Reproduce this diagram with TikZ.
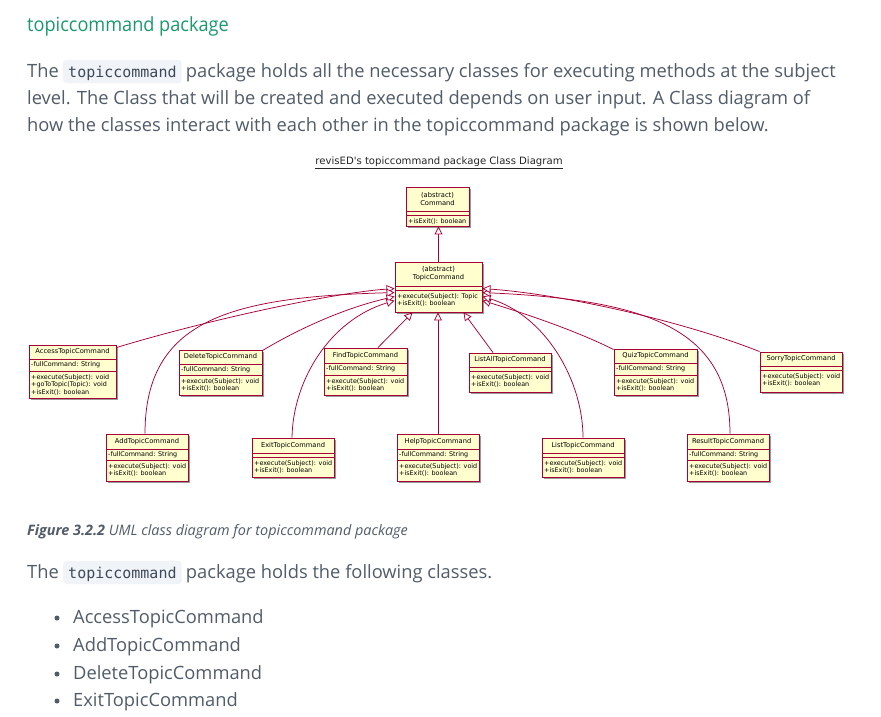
\documentclass[tikz,border=0pt]{standalone}
\usepackage{fontspec}
\setmainfont{Open Sans}
\newfontfamily\bodyfont{Open Sans}
\newfontfamily\headfont{Open Sans}[FakeStretch=0.93]
\newfontfamily\umlfont{DejaVu Sans}
\newfontfamily\codefont{DejaVu Sans Mono}
\usetikzlibrary{arrows.meta,shadows,fit,calc}
\definecolor{headgreen}{HTML}{1A9A6C}
\definecolor{bodygray}{HTML}{515C68}
\definecolor{codebg}{HTML}{F0F3F8}
\definecolor{codefg}{HTML}{3E4A57}
\definecolor{umlred}{HTML}{A80036}
\definecolor{umlfill}{HTML}{FEFECE}
\tikzset{
  classbox/.style={draw=umlred, line width=0.9pt, fill=umlfill, inner sep=0pt,
    drop shadow={shadow xshift=2pt, shadow yshift=-2pt, fill=black, opacity=0.4}},
  compline/.style={draw=umlred, line width=0.7pt},
  nametext/.style={font=\umlfont\fontsize{6.7}{8}\selectfont, align=center, inner sep=0pt, text=black},
  membertext/.style={font=\umlfont\fontsize{6.4}{7}\selectfont, anchor=west, inner sep=0pt, text=black},
  gen/.style={draw=umlred, line width=0.75pt, -{Triangle[length=8pt,width=8pt,fill=white]}},
  body/.style={font=\bodyfont\fontsize{18.3}{22}\selectfont, text=bodygray, inner sep=0pt, anchor=base west},
  codebox/.style={font=\codefont\fontsize{15}{18}\selectfont, text=codefg, fill=codebg, rounded corners=3pt,
    inner xsep=5pt, inner ysep=2pt, text height=15pt, text depth=4pt, anchor=base west},
  bullet/.style={circle, fill=bodygray, inner sep=0pt, minimum size=5pt}
}
\newcommand\classbox[7]{%
  \node[classbox, fit={(#2,#3) (#4,#5)}] (#1) {};
  \draw[compline] (#2,#6) -- (#4,#6);
  \draw[compline] (#2,#7) -- (#4,#7);
  \coordinate (#1-n) at ({(#2+#4)/2},{(#3+#6)/2});
  \coordinate (#1-a) at ({#2+2},{(#6+#7)/2});
  \coordinate (#1-m) at ({#2+2},{#7+6.5});
}
\newcommand\classtext[4]{%
  \node[nametext] (#1-name) at (#1-n) {#2};
  \node[membertext] (#1-attr) at (#1-a) {#3};
  \foreach \m [count=\i from 0] in {#4} {\node[membertext] (#1-m\i) at ($(#1-m)+(0,7.4*\i)$) {\m};}
}
\begin{document}
\begin{tikzpicture}[x=1pt,y=-1pt]
\useasboundingbox (0,0) rectangle (881,716);
\fill[white] (0,0) rectangle (881,716);

% page text
\node[body, font=\headfont\fontsize{19.5}{23}\selectfont, text=headgreen] (head) at (27,31) {topiccommand package};
\node[body] (p1a) at (27,77) {The};
\node[codebox] (p1c) at ([xshift=4pt]p1a.base east) {topiccommand};
\node[body] (p1b) at ([xshift=4pt]p1c.base east) {package holds all the necessary classes for executing methods at the subject};
\node[body] (p2) at (27,104) {level. The Class that will be created and executed depends on user input. A Class diagram of};
\node[body] (p3) at (27,131) {how the classes interact with each other in the topiccommand package is shown below.};

\node[body, font=\bodyfont\itshape\fontsize{14.4}{17}\selectfont] (cap) at (27,535) {\textbf{Figure 3.2.2} UML class diagram for topiccommand package};
\node[body] (q1a) at (27,578) {The};
\node[codebox] (q1c) at ([xshift=4pt]q1a.base east) {topiccommand};
\node[body] (q1b) at ([xshift=4pt]q1c.base east) {package holds the following classes.};

\node[bullet] (b1) at (57,618) {};
\node[body] (l1) at (73,623) {AccessTopicCommand};
\node[bullet] (b2) at (57,646) {};
\node[body] (l2) at (73,651) {AddTopicCommand};
\node[bullet] (b3) at (57,674) {};
\node[body] (l3) at (73,679) {DeleteTopicCommand};
\node[bullet] (b4) at (57,701) {};
\node[body] (l4) at (73,706) {ExitTopicCommand};

% diagram title
\node[font=\umlfont\fontsize{10.1}{12}\selectfont, text=black!85, inner sep=0pt] (title) at (439,163) {\underline{revisED's topiccommand package Class Diagram}};

% classes
\classbox{command}{406}{187}{469}{226}{211}{215}
\classbox{topic}{395}{262}{482}{312}{286}{290}
\classbox{access}{29}{345}{116}{398}{359}{371}
\classbox{delete}{179}{350}{262}{395}{364}{375}
\classbox{find}{324}{348}{407}{395}{363}{375}
\classbox{listall}{469}{353}{551}{392}{367}{371}
\classbox{quiz}{614}{349}{697}{395}{363}{375}
\classbox{sorry}{760}{352}{842}{392}{366}{370}
\classbox{add}{106}{434}{188}{481}{449}{460}
\classbox{exit}{252}{438}{334}{477}{453}{457}
\classbox{help}{397}{434}{479}{481}{449}{460}
\classbox{list}{542}{438}{624}{477}{453}{457}
\classbox{result}{687}{434}{769}{481}{449}{460}

\classtext{command}{(abstract)\\Command}{}{+isExit(): boolean}
\classtext{topic}{(abstract)\\TopicCommand}{}{+execute(Subject): Topic,+isExit(): boolean}
\classtext{access}{AccessTopicCommand}{-fullCommand: String}{+execute(Subject): void,+goToTopic(Topic): void,+isExit(): boolean}
\classtext{delete}{DeleteTopicCommand}{-fullCommand: String}{+execute(Subject): void,+isExit(): boolean}
\classtext{find}{FindTopicCommand}{-fullCommand: String}{+execute(Subject): void,+isExit(): boolean}
\classtext{listall}{ListAllTopicCommand}{}{+execute(Subject): void,+isExit(): boolean}
\classtext{quiz}{QuizTopicCommand}{-fullCommand: String}{+execute(Subject): void,+isExit(): boolean}
\classtext{sorry}{SorryTopicCommand}{}{+execute(Subject): void,+isExit(): boolean}
\classtext{add}{AddTopicCommand}{-fullCommand: String}{+execute(Subject): void,+isExit(): boolean}
\classtext{exit}{ExitTopicCommand}{}{+execute(Subject): void,+isExit(): boolean}
\classtext{help}{HelpTopicCommand}{-fullCommand: String}{+execute(Subject): void,+isExit(): boolean}
\classtext{list}{ListTopicCommand}{}{+execute(Subject): void,+isExit(): boolean}
\classtext{result}{ResultTopicCommand}{-fullCommand: String}{+execute(Subject): void,+isExit(): boolean}

% generalizations
\draw[gen] (topic.north) -- (topic.north |- command.south);
\draw[gen] ([yshift=-3pt]access.north east) .. controls (200,322) and (330,293) .. ([yshift=-27pt]topic.north west);
\draw[gen] ([xshift=-2pt]add.north) .. controls (145,320) and (230,297) .. ([yshift=-31pt]topic.north west);
\draw[gen] ([yshift=-1pt]delete.north east) .. controls (300,328) and (345,308) .. ([yshift=-35pt]topic.north west);
\draw[gen] ([xshift=-1pt]exit.north) .. controls (293,380) and (330,320) .. ([yshift=-39pt]topic.north west);
\draw[gen] ([xshift=12.5pt]find.north) -- ([xshift=-26pt]topic.south);
\draw[gen] (help.north) -- (help.north |- topic.south);
\draw[gen] ([xshift=-17pt]listall.north) -- ([xshift=25pt]topic.south);
\draw[gen] ([yshift=-1pt]quiz.north west) .. controls (575,330) and (520,312) .. ([yshift=-39pt]topic.north east);
\draw[gen] (list.north) .. controls (583,380) and (545,315) .. ([yshift=-35pt]topic.north east);
\draw[gen] ([xshift=2pt]result.north) .. controls (730,330) and (650,300) .. ([yshift=-31pt]topic.north east);
\draw[gen] (sorry.north west) .. controls (680,320) and (560,294) .. ([yshift=-27pt]topic.north east);
\end{tikzpicture}
\end{document}
